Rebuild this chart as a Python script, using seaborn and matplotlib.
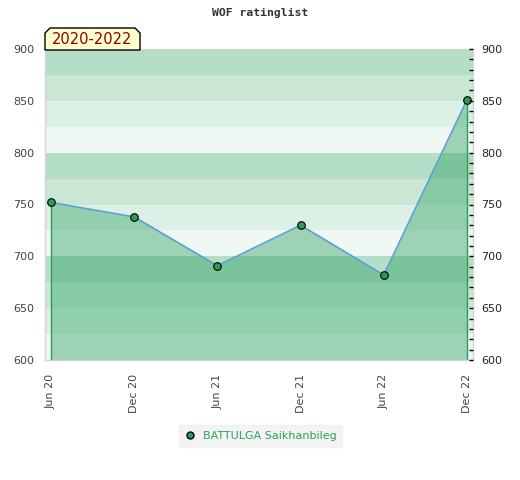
import numpy as np
import pandas as pd
import matplotlib
matplotlib.use("Agg")
import matplotlib.pyplot as plt
import seaborn as sns
from matplotlib.patches import Polygon
from matplotlib.lines import Line2D

# data
periods = ["Jun 20", "Dec 20", "Jun 21", "Dec 21", "Jun 22", "Dec 22"]
ratings = [752, 738, 691, 730, 682, 851]
player = "BATTULGA Saikhanbileg"
span_label = "2020-2022"

band_alphas = [0.35, 0.25, 0.16, 0.07]   # repeating every 100 points, from top
green = "#2ca25f"

sns.set_theme(style="white")
plt.rcParams["font.family"] = ["DejaVu Sans"]

df = pd.DataFrame({"idx": np.arange(len(periods)), "rating": ratings})

fig = plt.figure(figsize=(5.2, 4.8), dpi=100)
ax = fig.add_axes([45 / 520, 1 - 360 / 480, 428 / 520, 311 / 480])

# background bands
for top in range(900, 600, -25):
    k = ((900 - top) // 25) % 4
    ax.axhspan(top - 25, top, color=green, alpha=band_alphas[k], lw=0, zorder=0)

ax.fill_between(df["idx"], df["rating"], 600, color=green, alpha=0.42, lw=0, zorder=1)
ax.vlines([df["idx"].iloc[0], df["idx"].iloc[-1]], 600,
          [df["rating"].iloc[0], df["rating"].iloc[-1]], color="#2e9a55", lw=1, zorder=2)
sns.lineplot(data=df, x="idx", y="rating", ax=ax, color="#5a9fdc", lw=1.2, zorder=3)
sns.scatterplot(data=df, x="idx", y="rating", ax=ax, color="#2a9d55", edgecolor="black",
                linewidth=0.8, s=30, zorder=4)

pad = 6 / 83.2
ax.set_xlim(-pad, len(periods) - 1 + pad)
ax.set_ylim(600, 900)
ax.set_xlabel("")
ax.set_ylabel("")
ax.set_xticks(df["idx"])
ax.set_xticklabels(periods, rotation=90, fontsize=8, color="#444444")
ax.set_yticks(range(600, 901, 50))
ax.tick_params(axis="y", labelsize=8, labelcolor="#444444", length=0, pad=8)
ax.tick_params(axis="x", length=0, pad=10)
for s in ax.spines.values():
    s.set_color("#d4d4d4")
    s.set_linewidth(1)

ax2 = ax.twinx()
ax2.set_ylim(600, 900)
ax2.set_yticks(range(600, 901, 50))
ax2.set_yticks(range(600, 901, 10), minor=True)
ax2.tick_params(axis="y", which="both", direction="in", length=3, width=1,
                color="black", labelsize=8, labelcolor="#222222", pad=6)
for s in ax2.spines.values():
    s.set_visible(False)

fig.text(0.5, 1 - 13 / 480, "WOF ratinglist", ha="center", va="center",
         family="DejaVu Sans Mono", fontweight="bold", fontsize=8.2, color="#333333")

# period tag box with cut top corners
pts = [(45, 50), (45, 33), (50, 28), (135, 28), (140, 33), (140, 50)]
fig.patches.append(Polygon([(x / 520, 1 - y / 480) for x, y in pts], closed=True,
                           transform=fig.transFigure, facecolor="#ffffcc",
                           edgecolor="black", lw=1, zorder=10))
fig.text(92.5 / 520, 1 - 40 / 480, span_label, ha="center", va="center",
         fontsize=10.5, color="#8b0000", zorder=11)

handle = Line2D([], [], marker="o", ls="none", markerfacecolor="#2a9d55",
                markeredgecolor="black", markersize=5)
leg = fig.legend([handle], [player], loc="center", bbox_to_anchor=(260.5 / 520, 1 - 436 / 480),
                 frameon=True, fontsize=8, handletextpad=0.6, borderpad=0.55,
                 borderaxespad=0, fancybox=False, handlelength=1)
leg.get_frame().set_facecolor("#f0f0f0")
leg.get_frame().set_edgecolor("#f0f0f0")
for t in leg.get_texts():
    t.set_color("#2ca25f")

fig.savefig("out.png", dpi=100)
